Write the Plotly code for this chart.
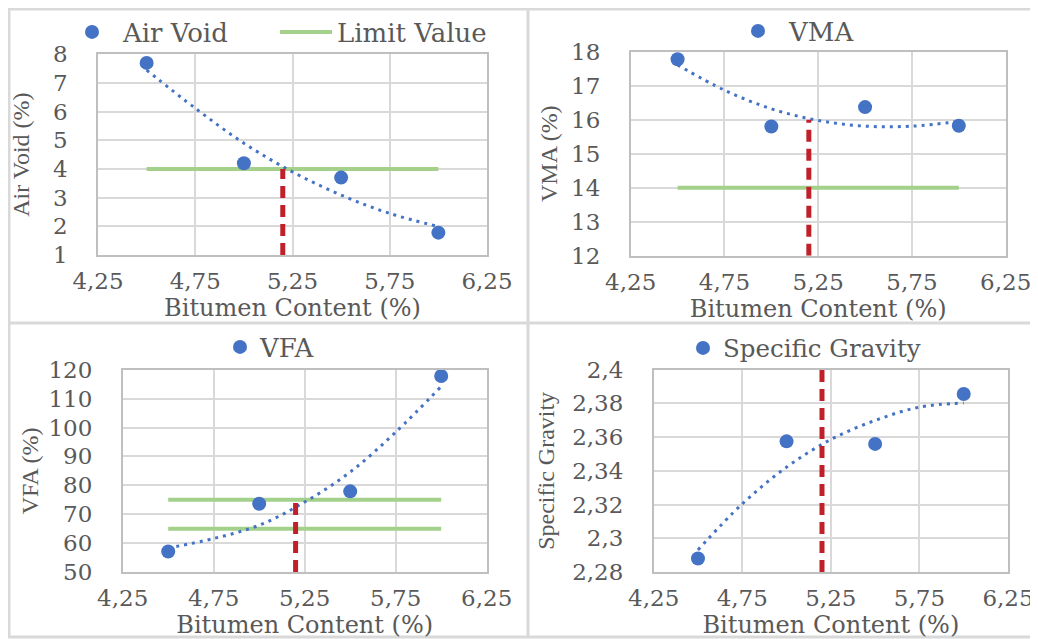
import plotly.graph_objects as go

# The page places the figure 8 px from the top-left corner of the window,
# so the figure is made 8 px smaller and every reference pixel is shifted by 8.
PAGE_W, PAGE_H, OFF = 1038, 639, 8
FW, FH = PAGE_W - OFF, PAGE_H - OFF

# ---------------- data ----------------
bitumen = [4.5, 5.0, 5.5, 6.0]
air_void = [7.70, 4.20, 3.70, 1.78]
vma = [17.78, 15.80, 16.37, 15.82]
vfa = [57.1, 73.6, 77.9, 117.8]
specific_gravity = [2.2880, 2.3575, 2.3560, 2.3856]

trend_x = [4.5, 4.75, 5.0, 5.25, 5.5, 5.75, 6.0]
air_void_trend = [7.45, 6.12, 4.90, 3.90, 3.09, 2.45, 1.99]
vma_trend = [17.61, 16.87, 16.32, 15.98, 15.81, 15.81, 15.95]
vfa_trend = [58.3, 61.6, 66.2, 74.2, 84.6, 98.4, 114.2]
sg_trend = [2.2931, 2.3204, 2.3422, 2.3586, 2.3699, 2.3778, 2.3802]

limit_x = [4.5, 6.0]
air_void_limit = [4, 4]
vma_limit = [14, 14]
vfa_limit_low = [65, 65]
vfa_limit_high = [75, 75]

optimum_x = [5.2, 5.2]
air_void_opt = [1, 4]
vma_opt = [12, 16]
vfa_opt = [50, 75]
sg_opt = [2.28, 2.40]

x_title = "Bitumen Content (%)"
y_titles = ["Air Void (%)", "VMA (%)", "VFA (%)", "Specific Gravity"]
y_ranges = [[1, 8], [12, 18], [50, 120], [2.28, 2.40]]
y_dticks = [1, 1, 10, 0.02]

# ---------------- style ----------------
BLUE = "#4472C4"
GREEN = "#A3D08A"
RED = "#C0202A"
GRID = "#D9D9D9"
TXT = "#595959"
SERIF_W = "DejaVu Serif"
SERIF = "Liberation Serif"


def fx(p):
    return (p - OFF) / FW


def fy(p):
    return 1 - (p - OFF) / FH


# pixel boxes of the four plot areas in the reference: (left, right, top, bottom)
boxes = [
    (98, 487, 54.3, 255),
    (630.7, 1005.7, 51.7, 255.7),
    (122.7, 486.7, 369.7, 572),
    (653.7, 1008, 369.7, 572),
]
y_title_standoff = [20, 7, 3, 11]

fig = go.Figure()

series = [
    ("Air Void", air_void, air_void_trend, air_void_opt),
    ("VMA", vma, vma_trend, vma_opt),
    ("VFA", vfa, vfa_trend, vfa_opt),
    ("Specific Gravity", specific_gravity, sg_trend, sg_opt),
]
legend_ids = ["legend", "legend2", "legend3", "legend4"]

for i, (name, vals, trend, opt) in enumerate(series):
    sx = "x" if i == 0 else f"x{i+1}"
    sy = "y" if i == 0 else f"y{i+1}"
    # limit lines
    if i == 0:
        fig.add_trace(go.Scatter(x=limit_x, y=air_void_limit, mode="lines", name="Limit Value",
                                 line=dict(color=GREEN, width=4), xaxis=sx, yaxis=sy,
                                 legend=legend_ids[i], legendrank=2))
    elif i == 1:
        fig.add_trace(go.Scatter(x=limit_x, y=vma_limit, mode="lines", showlegend=False,
                                 line=dict(color=GREEN, width=4), xaxis=sx, yaxis=sy))
    elif i == 2:
        for lv in (vfa_limit_high, vfa_limit_low):
            fig.add_trace(go.Scatter(x=limit_x, y=lv, mode="lines", showlegend=False,
                                     line=dict(color=GREEN, width=4), xaxis=sx, yaxis=sy))
    # trendline
    fig.add_trace(go.Scatter(x=trend_x, y=trend, mode="lines", showlegend=False,
                             line=dict(color=BLUE, width=3, dash="3px,5px", shape="spline"),
                             xaxis=sx, yaxis=sy))
    # optimum bitumen line
    fig.add_trace(go.Scatter(x=optimum_x, y=opt, mode="lines", showlegend=False,
                             line=dict(color=RED, width=5, dash="12px,7px"),
                             xaxis=sx, yaxis=sy, cliponaxis=False))
    # data points
    fig.add_trace(go.Scatter(x=bitumen, y=vals, mode="markers", name=name,
                             marker=dict(color=BLUE, size=14), xaxis=sx, yaxis=sy,
                             legend=legend_ids[i], legendrank=1))

layout = dict(
    width=FW, height=FH,
    margin=dict(l=0, r=0, t=0, b=0, autoexpand=False),
    paper_bgcolor="white", plot_bgcolor="white",
    separators=", ",
    font=dict(family=SERIF_W, color=TXT, size=22),
)

for i, (l, r, t, b) in enumerate(boxes):
    xk = "xaxis" if i == 0 else f"xaxis{i+1}"
    yk = "yaxis" if i == 0 else f"yaxis{i+1}"
    xa = "x" if i == 0 else f"x{i+1}"
    ya = "y" if i == 0 else f"y{i+1}"
    layout[xk] = dict(
        domain=[fx(l), fx(r)], anchor=ya, range=[4.25, 6.25], tick0=4.25, dtick=0.5,
        tickformat=".2f", showgrid=True, gridcolor=GRID, gridwidth=1.5,
        showline=True, linecolor="#BFBFBF", linewidth=1.5, mirror=True,
        zeroline=False, ticks="", ticklabelstandoff=5, automargin=False,
        tickfont=dict(family=SERIF_W, size=23, color=TXT),
        title=dict(text=x_title, font=dict(family=SERIF_W, size=24, color=TXT), standoff=0),
    )
    layout[yk] = dict(
        domain=[fy(b), fy(t)], anchor=xa, range=y_ranges[i], dtick=y_dticks[i],
        tick0=y_ranges[i][0],
        showgrid=True, gridcolor=GRID, gridwidth=1.5,
        showline=True, linecolor="#BFBFBF", linewidth=1.5, mirror=True,
        zeroline=False, ticks="", ticklabelstandoff=24, automargin=False,
        tickfont=dict(family=SERIF_W, size=23, color=TXT),
        title=dict(text=y_titles[i], font=dict(family=SERIF, size=24, color=TXT),
                   standoff=y_title_standoff[i]),
    )

# legend placement: (left edge of first item, centre y, symbol item width, font size)
legend_pos = [(61, 32, 52, 26), (727, 31, 52, 26), (220, 347, 30, 26), (683, 348, 30, 24.5)]
for i, (lx, cy, iw, fs) in enumerate(legend_pos):
    key = legend_ids[i]
    leg = dict(
        orientation="h", x=fx(lx), y=fy(cy), xanchor="left", yanchor="middle",
        font=dict(family=SERIF_W, size=fs, color=TXT), bgcolor="rgba(0,0,0,0)",
        traceorder="normal", itemwidth=iw, borderwidth=0,
    )
    if i == 0:
        leg["entrywidth"] = 147
        leg["entrywidthmode"] = "pixels"
    layout[key] = leg

# panel separator lines
line_style = dict(color="#D9D9D9", width=3)
shapes = [
    dict(type="line", xref="paper", yref="paper", x0=fx(9), x1=fx(9), y0=fy(637), y1=1, line=line_style),
    dict(type="line", xref="paper", yref="paper", x0=fx(528), x1=fx(528), y0=fy(637), y1=1, line=line_style),
    dict(type="line", xref="paper", yref="paper", x0=0, x1=1, y0=fy(9), y1=fy(9), line=line_style),
    dict(type="line", xref="paper", yref="paper", x0=0, x1=1, y0=fy(323), y1=fy(323), line=line_style),
    dict(type="line", xref="paper", yref="paper", x0=0, x1=1, y0=fy(637), y1=fy(637), line=line_style),
]
layout["shapes"] = shapes

fig.update_layout(**layout)
fig.write_html("out.html")
